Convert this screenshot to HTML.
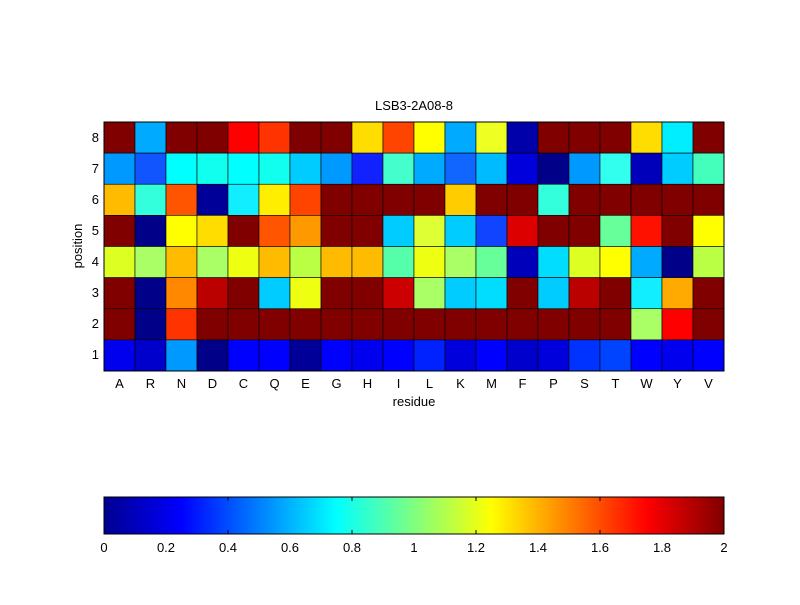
<!DOCTYPE html>
<html><head><meta charset="utf-8">
<style>
body{margin:0;background:#fff;width:800px;height:600px;overflow:hidden}
svg text{font-family:"Liberation Sans",Arial,sans-serif;font-size:13px;fill:#000}
</style></head>
<body>
<svg id="s" width="800" height="600" xmlns="http://www.w3.org/2000/svg">
<rect width="800" height="600" fill="#fff"/>
<g id="cells"></g>
<rect x="104" y="122" width="620" height="249" fill="none" stroke="#000" stroke-width="1"/>
<defs>
<linearGradient id="jet" x1="0" x2="1" y1="0" y2="0">
<stop offset="0" stop-color="#00008f"/>
<stop offset="0.125" stop-color="#0000ff"/>
<stop offset="0.375" stop-color="#00ffff"/>
<stop offset="0.625" stop-color="#ffff00"/>
<stop offset="0.875" stop-color="#ff0000"/>
<stop offset="1" stop-color="#800000"/>
</linearGradient>
</defs>
<rect x="104" y="497" width="620" height="37" fill="url(#jet)" stroke="#000" stroke-width="1"/>
<g stroke="#000" stroke-width="1">
<line x1="228" y1="497" x2="228" y2="501"/><line x1="352" y1="497" x2="352" y2="501"/><line x1="476" y1="497" x2="476" y2="501"/><line x1="600" y1="497" x2="600" y2="501"/>
<line x1="228" y1="534" x2="228" y2="530"/><line x1="352" y1="534" x2="352" y2="530"/><line x1="476" y1="534" x2="476" y2="530"/><line x1="600" y1="534" x2="600" y2="530"/>
</g>
<g text-anchor="middle">
<text x="104" y="552">0</text><text x="166" y="552">0.2</text><text x="228" y="552">0.4</text><text x="290" y="552">0.6</text><text x="352" y="552">0.8</text><text x="414" y="552">1</text><text x="476" y="552">1.2</text><text x="538" y="552">1.4</text><text x="600" y="552">1.6</text><text x="662" y="552">1.8</text><text x="724" y="552">2</text>
<text x="414" y="110">LSB3-2A08-8</text>
<text x="414" y="406">residue</text>
<text transform="translate(82,246) rotate(-90)">position</text>
</g>
<g text-anchor="middle">
<text x="119.5" y="388">A</text><text x="150.5" y="388">R</text><text x="181.5" y="388">N</text><text x="212.5" y="388">D</text><text x="243.5" y="388">C</text><text x="274.5" y="388">Q</text><text x="305.5" y="388">E</text><text x="336.5" y="388">G</text><text x="367.5" y="388">H</text><text x="398.5" y="388">I</text><text x="429.5" y="388">L</text><text x="460.5" y="388">K</text><text x="491.5" y="388">M</text><text x="522.5" y="388">F</text><text x="553.5" y="388">P</text><text x="584.5" y="388">S</text><text x="615.5" y="388">T</text><text x="646.5" y="388">W</text><text x="677.5" y="388">Y</text><text x="708.5" y="388">V</text>
</g>
<g text-anchor="end">
<text x="99" y="142">8</text><text x="99" y="173">7</text><text x="99" y="204">6</text><text x="99" y="235">5</text><text x="99" y="266">4</text><text x="99" y="297">3</text><text x="99" y="328">2</text><text x="99" y="359">1</text>
</g>
</svg>
<script>
var D="#800000";
var rows=[
[D,"#0af",D,D,"#f00","#f30",D,D,"#fd0","#f40","#ff0","#0af","#ef2","#00a",D,D,D,"#fd0","#0ef",D],
["#09f","#15f","#0ff","#1fe","#0ff","#1fe","#0cf","#09f","#12f","#4fc","#0af","#16f","#0bf","#00d","#008","#09f","#3fe","#00b","#0cf","#4fb"],
["#fb0","#3fd","#f50","#009","#1ef","#fe0","#f40",D,D,D,D,"#fc0",D,D,"#3fd",D,D,D,D,D],
[D,"#008","#ff0","#fd0",D,"#f50","#f90",D,D,"#0cf","#df3","#0cf","#14f","#d00",D,D,"#6f9","#f10",D,"#ff0"],
["#df2","#af6","#fb0","#af6","#ef1","#fb0","#bf4","#fb0","#fb0","#5fa","#ef1","#af6","#6f9","#00b","#0df","#df2","#ff0","#0af","#008","#bf4"],
[D,"#008","#f80","#b00",D,"#0cf","#ef1",D,D,"#c00","#af6","#0cf","#0df",D,"#0cf","#b00",D,"#1ef","#fa0",D],
[D,"#008","#f30",D,D,D,D,D,D,D,D,D,D,D,D,D,D,"#af6","#f00",D],
["#00e","#00c","#09f","#008","#00f","#00f","#009","#00f","#00e","#00f","#02f","#00d","#00f","#00c","#00d","#03f","#04f","#00f","#00e","#00f"]];
var g=document.getElementById("cells"),ns="http://www.w3.org/2000/svg";
for(var r=0;r<8;r++)for(var c=0;c<20;c++){var e=document.createElementNS(ns,"rect");
e.setAttribute("x",104+c*31);e.setAttribute("y",122+r*31.125);e.setAttribute("width",31);e.setAttribute("height",31.125);
e.setAttribute("fill",rows[r][c]);e.setAttribute("stroke","#000");e.setAttribute("stroke-width","0.6");g.appendChild(e);}
</script>
</body></html>
